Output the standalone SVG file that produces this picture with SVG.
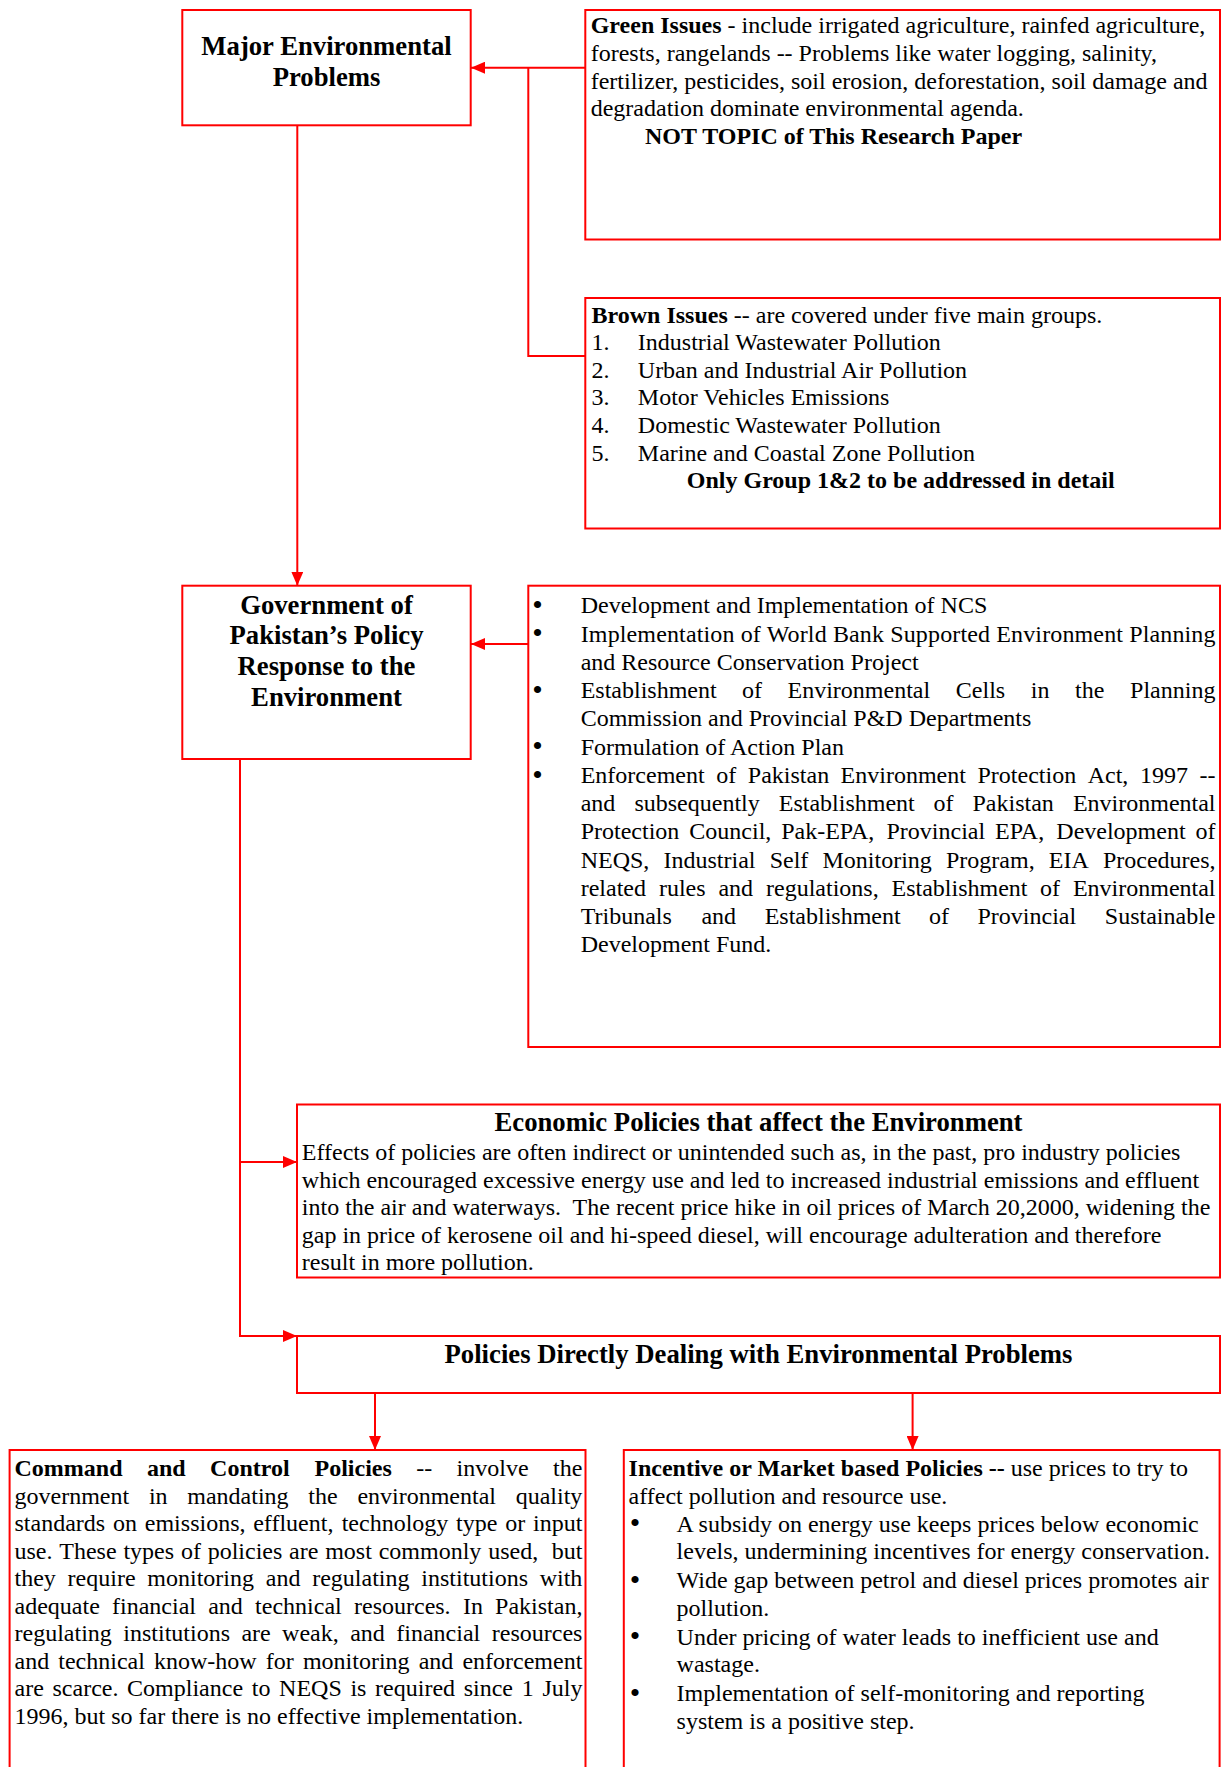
<svg xmlns="http://www.w3.org/2000/svg" width="1222" height="1767" viewBox="0 0 1222 1767">
<style>
.box{fill:#fff;stroke:#FF0000;stroke-width:2}
.conn{fill:none;stroke:#FF0000;stroke-width:2}
text{font-family:"Liberation Serif","Times New Roman",serif;font-size:24px;fill:#000}
.b{font-weight:bold}
.h{font-size:26.7px;font-weight:bold;text-anchor:middle}
.bl{font-size:30px}
</style>
<defs>
<marker id="ah" markerUnits="userSpaceOnUse" markerWidth="14" markerHeight="12" viewBox="0 0 14 12" refX="14" refY="6" orient="auto"><path d="M0,0 L14,6 L0,12 z" fill="#FF0000"/></marker>
</defs>
<rect width="1222" height="1767" fill="#fff"/>

<g id="connectors">
<path class="conn" d="M585,67.7 H471" marker-end="url(#ah)"/>
<path class="conn" d="M586,356 H528.3 V67.7"/>
<path class="conn" d="M297.3,125.3 V585.7" marker-end="url(#ah)"/>
<path class="conn" d="M528.3,644 H471" marker-end="url(#ah)"/>
<path class="conn" d="M240,759 V1336 H297" marker-end="url(#ah)"/>
<path class="conn" d="M240,1162 H297" marker-end="url(#ah)"/>
<path class="conn" d="M375,1393 V1450" marker-end="url(#ah)"/>
<path class="conn" d="M912.6,1393 V1450" marker-end="url(#ah)"/>
</g>

<g id="major">
<rect class="box" x="182.3" y="10" width="288.4" height="115.3"/>
<text class="h" x="326.5" y="54.5">Major Environmental</text>
<text class="h" x="326.5" y="85.5">Problems</text>
</g>

<g id="green">
<rect class="box" x="585.3" y="10" width="634.7" height="229.5"/>
<text x="590.7" y="33.3"><tspan class="b">Green Issues</tspan> - include irrigated agriculture, rainfed agriculture,</text>
<text x="590.7" y="60.9">forests, rangelands -- Problems like water logging, salinity,</text>
<text x="590.7" y="88.5">fertilizer, pesticides, soil erosion, deforestation, soil damage and</text>
<text x="590.7" y="116.1">degradation dominate environmental agenda.</text>
<text class="b" x="645" y="143.7">NOT TOPIC of This Research Paper</text>
</g>

<g id="brown">
<rect class="box" x="585.3" y="298" width="634.7" height="230.5"/>
<text x="591.5" y="322.5"><tspan class="b">Brown Issues</tspan> -- are covered under five main groups.</text>
<text x="591.5" y="350">1.</text><text x="637.8" y="350">Industrial Wastewater Pollution</text>
<text x="591.5" y="377.7">2.</text><text x="637.8" y="377.7">Urban and Industrial Air Pollution</text>
<text x="591.5" y="405.3">3.</text><text x="637.8" y="405.3">Motor Vehicles Emissions</text>
<text x="591.5" y="433">4.</text><text x="637.8" y="433">Domestic Wastewater Pollution</text>
<text x="591.5" y="460.5">5.</text><text x="637.8" y="460.5">Marine and Coastal Zone Pollution</text>
<text class="b" x="686.8" y="488">Only Group 1&amp;2 to be addressed in detail</text>
</g>

<g id="gov">
<rect class="box" x="182.3" y="585.7" width="288.4" height="173.3"/>
<text class="h" x="326.5" y="613.7">Government of</text>
<text class="h" x="326.5" y="644.3">Pakistan’s Policy</text>
<text class="h" x="326.5" y="674.7">Response to the</text>
<text class="h" x="326.5" y="706">Environment</text>
</g>

<g id="govActions">
<rect class="box" x="528.3" y="585.7" width="691.7" height="461.3"/>
<text class="bl" x="532.3" y="615">•</text><text x="580.7" y="613.3">Development and Implementation of NCS</text>
<text class="bl" x="532.3" y="643.3">•</text><text x="580.7" y="641.6" textLength="634.8" lengthAdjust="spacing">Implementation of World Bank Supported Environment Planning</text>
<text x="580.7" y="669.8">and Resource Conservation Project</text>
<text class="bl" x="532.3" y="699.8">•</text><text y="698.1"><tspan x="580.7">Establishment</tspan><tspan x="741.9">of</tspan><tspan x="787.5">Environmental</tspan><tspan x="955.8">Cells</tspan><tspan x="1030.8">in</tspan><tspan x="1075.1">the</tspan><tspan x="1130.1">Planning</tspan></text>
<text x="580.7" y="726.3">Commission and Provincial P&amp;D Departments</text>
<text class="bl" x="532.3" y="756.3">•</text><text x="580.7" y="754.6">Formulation of Action Plan</text>
<text class="bl" x="532.3" y="784.5">•</text><text y="782.8"><tspan x="580.7">Enforcement</tspan><tspan x="716.2">of</tspan><tspan x="747.8">Pakistan</tspan><tspan x="840.6">Environment</tspan><tspan x="977.5">Protection</tspan><tspan x="1087.7">Act,</tspan><tspan x="1140">1997</tspan><tspan x="1199.5">--</tspan></text>
<text y="811.1"><tspan x="580.7">and</tspan><tspan x="634.4">subsequently</tspan><tspan x="778.8">Establishment</tspan><tspan x="933.4">of</tspan><tspan x="972.5">Pakistan</tspan><tspan x="1072.9">Environmental</tspan></text>
<text y="839.3"><tspan x="580.7">Protection</tspan><tspan x="689.3">Council,</tspan><tspan x="781.2">Pak-EPA,</tspan><tspan x="886.5">Provincial</tspan><tspan x="995">EPA,</tspan><tspan x="1056.3">Development</tspan><tspan x="1195.5">of</tspan></text>
<text y="867.6"><tspan x="580.7">NEQS,</tspan><tspan x="663.5">Industrial</tspan><tspan x="769.7">Self</tspan><tspan x="822.5">Monitoring</tspan><tspan x="946">Program,</tspan><tspan x="1048.8">EIA</tspan><tspan x="1102.9">Procedures,</tspan></text>
<text y="895.8"><tspan x="580.7">related</tspan><tspan x="658.9">rules</tspan><tspan x="718.4">and</tspan><tspan x="766">regulations,</tspan><tspan x="891.5">Establishment</tspan><tspan x="1040">of</tspan><tspan x="1072.9">Environmental</tspan></text>
<text y="924.1"><tspan x="580.7">Tribunals</tspan><tspan x="701.4">and</tspan><tspan x="764.7">Establishment</tspan><tspan x="928.9">of</tspan><tspan x="977.5">Provincial</tspan><tspan x="1104.8">Sustainable</tspan></text>
<text x="580.7" y="952.3">Development Fund.</text>
</g>

<g id="economic">
<rect class="box" x="297" y="1104.5" width="923" height="173"/>
<text class="h" x="758.5" y="1130.7">Economic Policies that affect the Environment</text>
<text x="301.8" y="1160">Effects of policies are often indirect or unintended such as, in the past, pro industry policies</text>
<text x="301.8" y="1187.5">which encouraged excessive energy use and led to increased industrial emissions and effluent</text>
<text x="301.8" y="1215" xml:space="preserve">into the air and waterways.  The recent price hike in oil prices of March 20,2000, widening the</text>
<text x="301.8" y="1242.5">gap in price of kerosene oil and hi-speed diesel, will encourage adulteration and therefore</text>
<text x="301.8" y="1270">result in more pollution.</text>
</g>

<g id="direct">
<rect class="box" x="297" y="1336" width="923" height="57"/>
<text class="h" x="758.5" y="1363.3">Policies Directly Dealing with Environmental Problems</text>
</g>

<g id="command">
<rect class="box" x="9.6" y="1450" width="575.9" height="340"/>
<text y="1476"><tspan class="b" x="14.5">Command</tspan><tspan class="b" x="146.9">and</tspan><tspan class="b" x="210.1">Control</tspan><tspan class="b" x="314.5">Policies</tspan><tspan x="416.2">--</tspan><tspan x="456.6">involve</tspan><tspan x="553.1">the</tspan></text>
<text y="1503.5"><tspan x="14.5">government</tspan><tspan x="148.9">in</tspan><tspan x="187.3">mandating</tspan><tspan x="308.3">the</tspan><tspan x="357.4">environmental</tspan><tspan x="515.7">quality</tspan></text>
<text y="1531"><tspan x="14.5">standards</tspan><tspan x="113">on</tspan><tspan x="144.8">emissions,</tspan><tspan x="253.2">effluent,</tspan><tspan x="341.7">technology</tspan><tspan x="456.1">type</tspan><tspan x="505.3">or</tspan><tspan x="533.1">input</tspan></text>
<text y="1558.5"><tspan x="14.5">use.</tspan><tspan x="59.3">These</tspan><tspan x="123.4">types</tspan><tspan x="180.9">of</tspan><tspan x="207.7">policies</tspan><tspan x="289.1">are</tspan><tspan x="325.2">most</tspan><tspan x="378.7">commonly</tspan><tspan x="488.2">used,</tspan><tspan x="551.8">but</tspan></text>
<text y="1586"><tspan x="14.5">they</tspan><tspan x="67.6">require</tspan><tspan x="147.3">monitoring</tspan><tspan x="265.8">and</tspan><tspan x="312.2">regulating</tspan><tspan x="421.3">institutions</tspan><tspan x="539.7">with</tspan></text>
<text y="1613.5"><tspan x="14.5">adequate</tspan><tspan x="112">financial</tspan><tspan x="208.2">and</tspan><tspan x="255.1">technical</tspan><tspan x="354">resources.</tspan><tspan x="462.9">In</tspan><tspan x="495.1">Pakistan,</tspan></text>
<text y="1641"><tspan x="14.5">regulating</tspan><tspan x="123.3">institutions</tspan><tspan x="241.4">are</tspan><tspan x="282.1">weak,</tspan><tspan x="350.2">and</tspan><tspan x="396.3">financial</tspan><tspan x="491.8">resources</tspan></text>
<text y="1668.5"><tspan x="14.5">and</tspan><tspan x="58.3">technical</tspan><tspan x="154">know-how</tspan><tspan x="265.8">for</tspan><tspan x="302.9">monitoring</tspan><tspan x="418.7">and</tspan><tspan x="462.4">enforcement</tspan></text>
<text y="1696"><tspan x="14.5">are</tspan><tspan x="52.5">scarce.</tspan><tspan x="127.1">Compliance</tspan><tspan x="251.8">to</tspan><tspan x="279.1">NEQS</tspan><tspan x="350.4">is</tspan><tspan x="375.1">required</tspan><tspan x="463.7">since</tspan><tspan x="521.7">1</tspan><tspan x="542.4">July</tspan></text>
<text x="14.5" y="1724">1996, but so far there is no effective implementation.</text>
</g>

<g id="incentive">
<rect class="box" x="623.8" y="1450" width="595.8" height="340"/>
<text x="628.6" y="1476"><tspan class="b">Incentive or Market based Policies --</tspan> use prices to try to</text>
<text x="628.6" y="1503.5">affect pollution and resource use.</text>
<text class="bl" x="629.8" y="1533">•</text><text x="676.6" y="1531.5">A subsidy on energy use keeps prices below economic</text>
<text x="676.6" y="1559">levels, undermining incentives for energy conservation.</text>
<text class="bl" x="629.8" y="1589.5">•</text><text x="676.6" y="1588">Wide gap between petrol and diesel prices promotes air</text>
<text x="676.6" y="1615.5">pollution.</text>
<text class="bl" x="629.8" y="1646">•</text><text x="676.6" y="1644.5">Under pricing of water leads to inefficient use and</text>
<text x="676.6" y="1672">wastage.</text>
<text class="bl" x="629.8" y="1702.5">•</text><text x="676.6" y="1701">Implementation of self-monitoring and reporting</text>
<text x="676.6" y="1728.5">system is a positive step.</text>
</g>
</svg>
